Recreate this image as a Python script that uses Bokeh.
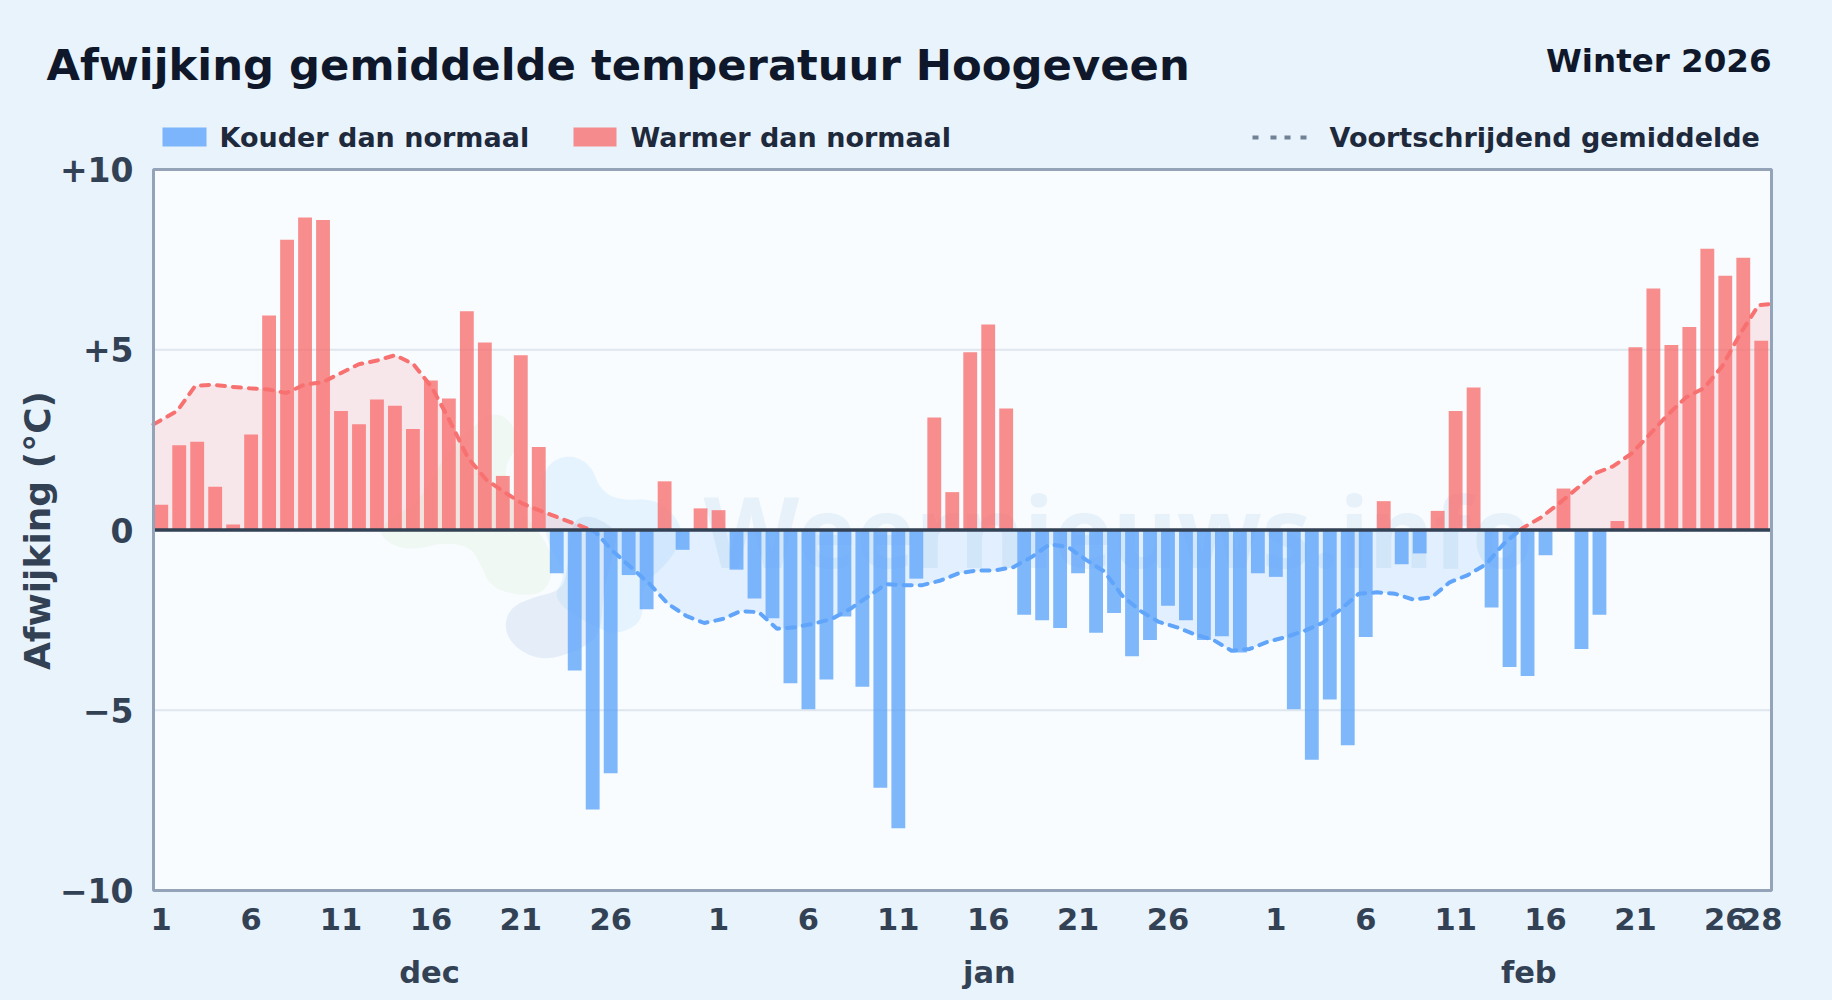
from bokeh.plotting import figure
from bokeh.embed import file_html
from bokeh.resources import INLINE
from bokeh.models import Label, BoxAnnotation, FixedTicker, AllLabels, LinearAxis, Range1d
from bokeh.core.properties import value
import numpy as np

# ---- data ----
dec_values = [0.7, 2.35, 2.45, 1.2, 0.15, 2.65, 5.95, 8.05, 8.67, 8.6, 3.3, 2.93, 3.62, 3.45, 2.8, 4.15,
              3.65, 6.07, 5.2, 1.5, 4.85, 2.3, -1.2, -3.9, -7.75, -6.75, -1.25, -2.2, 1.35, -0.55, 0.6]
jan_values = [0.55, -1.1, -1.9, -2.45, -4.25, -4.97, -4.15, -2.4, -4.35, -7.15, -8.27, -1.35, 3.12, 1.05,
              4.93, 5.7, 3.37, -2.35, -2.5, -2.72, -1.2, -2.85, -2.3, -3.5, -3.05, -2.1, -2.5, -3.05,
              -2.95, -3.4, -1.2]
feb_values = [-1.3, -4.97, -6.37, -4.7, -5.97, -2.97, 0.8, -0.95, -0.65, 0.53, 3.3, 3.95, -2.15, -3.8,
              -4.05, -0.7, 1.15, -3.3, -2.35, 0.25, 5.07, 6.7, 5.13, 5.63, 7.8, 7.05, 7.55, 5.25]
trend_values = [2.93, 3.3, 4.0, 4.03, 3.97, 3.93, 3.9, 3.8, 4.03, 4.1, 4.35, 4.6, 4.7, 4.85, 4.6, 3.97, 3.03,
                2.0, 1.4, 1.05, 0.73, 0.53, 0.34, 0.15, -0.05, -0.6, -1.05, -1.5, -2.05, -2.38, -2.58,
                -2.47, -2.25, -2.28, -2.74, -2.7, -2.6, -2.47, -2.2, -1.85, -1.5, -1.53, -1.53, -1.4,
                -1.2, -1.12, -1.12, -1.03, -0.75, -0.4, -0.47, -0.83, -1.15, -1.83, -2.25, -2.55, -2.7,
                -2.9, -3.05, -3.35, -3.3, -3.1, -2.97, -2.8, -2.58, -2.2, -1.77, -1.73, -1.77, -1.93,
                -1.87, -1.45, -1.25, -0.95, -0.37, 0.05, 0.34, 0.73, 1.15, 1.57, 1.77, 2.12, 2.65, 3.2,
                3.68, 3.94, 4.55, 5.46, 6.24, 6.27]
month_names = ["dec", "jan", "feb"]
month_lengths = [31, 31, 28]
month_centers = [14.85, 46, 76]
y_ticks = [10, 5, 0, -5, -10]
y_tick_labels = ["+10", "+5", "0", "\u22125", "\u221210"]
grid_values = [-5, 5]
day_ticks = [1, 6, 11, 16, 21, 26]
title_text = "Afwijking gemiddelde temperatuur Hoogeveen"
subtitle_text = "Winter 2026"
legend_cold = "Kouder dan normaal"
legend_warm = "Warmer dan normaal"
legend_trend = "Voortschrijdend gemiddelde"
y_title = "Afwijking (\u00b0C)"
watermark = "Weernieuws.info"

# ---- layout ----
W, H = 1832, 1000
L, R, T, B = 153, 1771, 169, 890   # plot-box edges in page pixels
FONT = "DejaVu Sans"
BG = "#e8f3fc"
BOX = "#f8fcff"
EDGE = "#94a3b8"
BLUE, RED = "#60a5fa", "#f87171"
BAND_SHIFT = -0.07   # bars sit a hair left of the band centre
TREND_SHIFT = 0.3    # inner running-mean points sit a little right of their even spacing

values = np.array(dec_values + jan_values + feb_values)
n = len(values)
idx = np.arange(n) + BAND_SHIFT
x_lo, x_hi = -0.5, n - 0.5
y_lo, y_hi = -10, 10

def dx(px):
    return (np.asarray(px, float) - L) / (R - L) * n - 0.5

def dy(py):
    return 10 - (np.asarray(py, float) - T) / (B - T) * 20

# The frame fills the page, so that texts outside the plot box are not clipped.
p = figure(width=W, height=H, x_range=Range1d(float(dx(0)), float(dx(W))), y_range=Range1d(float(dy(H)), float(dy(0))),
           x_axis_type=None, y_axis_type=None, output_backend="svg", toolbar_location=None,
           min_border=0, background_fill_color=BG, border_fill_color=BG)
p.outline_line_color = None

# plot box
p.quad(left=[x_lo], right=[x_hi], bottom=[y_lo], top=[y_hi], fill_color=BOX, line_color=None)

# ---- watermark logo (decoration, traced shapes) ----
def chaikin(points, rounds=3):
    a = np.array(points, float)
    for _ in range(rounds):
        b = np.roll(a, -1, axis=0)
        a = np.column_stack([0.75 * a + 0.25 * b, 0.25 * a + 0.75 * b]).reshape(-1, 2)
    return a

def zoomed(points):
    a = chaikin(points)
    return dx(370 + a[:, 0] / 3), dy(400 + a[:, 1] / 3)

logo_green = [(370, 30), (430, 70), (440, 140), (400, 200), (420, 300), (530, 420), (550, 510), (520, 580),
              (440, 585), (360, 560), (330, 490), (300, 440), (220, 425), (130, 450), (50, 430), (20, 380),
              (150, 300), (200, 200), (280, 100)]
logo_blue = [(520, 200), (590, 160), (660, 190), (690, 270), (750, 300), (850, 295), (910, 340), (940, 400),
             (900, 480), (810, 560), (820, 660), (750, 700), (690, 690), (540, 600), (590, 520), (530, 430),
             (510, 300)]
logo_grey = [(400, 680), (420, 620), (490, 590), (570, 570), (590, 520), (600, 370), (650, 340), (730, 380),
             (740, 420), (700, 560), (690, 710), (600, 760), (510, 780), (430, 740)]
for pts, col, a in [(logo_green, "#bfe3a8", 0.14), (logo_blue, "#a5d4fb", 0.22), (logo_grey, "#9dbbdc", 0.2)]:
    xs, ys = zoomed(pts)
    p.patch(xs, ys, fill_color=col, fill_alpha=a, line_color=None)

p.text(dx([703]), dy([529]), text=[watermark], text_font=value("Noto Sans"), text_font_style="bold",
       text_font_size="99px", text_color="#1e6fc4", text_alpha=0.08, text_baseline="alphabetic")

# grid
p.segment(x0=[x_lo] * 2, x1=[x_hi] * 2, y0=grid_values, y1=grid_values, line_color="#dfe6ee", line_width=2)

# ---- running-mean area ----
tx = np.arange(n) * n / (n - 1) - 0.5
tx[1:-1] += TREND_SHIFT
ty = np.array(trend_values)
cx, cy = [], []
for i in range(n):
    cx.append(tx[i]); cy.append(ty[i])
    if i < n - 1 and ty[i] * ty[i + 1] < 0:
        cx.append(tx[i] + (tx[i + 1] - tx[i]) * ty[i] / (ty[i] - ty[i + 1])); cy.append(0.0)
cx, cy = np.array(cx), np.array(cy)

p.varea(cx, np.zeros_like(cy), np.maximum(cy, 0), fill_color=RED, fill_alpha=0.15)
p.varea(cx, np.zeros_like(cy), np.minimum(cy, 0), fill_color=BLUE, fill_alpha=0.15)

# ---- bars ----
pos = values >= 0
p.vbar(idx[pos], top=values[pos], bottom=0, width=0.77, fill_color=RED, fill_alpha=0.8, line_color=None)
p.vbar(idx[~pos], top=0, bottom=values[~pos], width=0.77, fill_color=BLUE, fill_alpha=0.8, line_color=None)

# ---- running-mean line ----
for mask, col in [(cy >= 0, RED), (cy <= 0, BLUE)]:
    xs, ys = cx.copy(), cy.copy()
    ys[~mask] = np.nan
    p.line(xs, ys, line_color=col, line_width=4, line_dash="8 8", line_cap="round")

# zero line and plot-box edge
p.segment(x0=[x_lo], x1=[x_hi], y0=[0], y1=[0], line_color="#334155", line_width=3.5)
p.quad(left=[x_lo], right=[x_hi], bottom=[y_lo], top=[y_hi], fill_color=None, line_color=EDGE, line_width=3)

# ---- axes ----
ya = LinearAxis(fixed_location=x_lo, ticker=FixedTicker(ticks=y_ticks),
                major_label_overrides=dict(zip(y_ticks, y_tick_labels)))
tick_pos, tick_lab, offset = [], [], 0
for m, length in zip(month_names, month_lengths):
    for d in day_ticks + ([length] if m == "feb" else []):
        tick_pos.append(offset + d - 1 + BAND_SHIFT)
        tick_lab.append(str(d))
    offset += length
xa = LinearAxis(fixed_location=y_lo, ticker=FixedTicker(ticks=tick_pos),
                major_label_overrides=dict(zip(tick_pos, tick_lab)), major_label_policy=AllLabels())
ma = LinearAxis(fixed_location=y_lo, ticker=FixedTicker(ticks=month_centers),
                major_label_overrides=dict(zip(month_centers, month_names)))
for ax in (xa, ya, ma):
    ax.axis_line_color = None
    ax.major_tick_line_color = None
    ax.minor_tick_line_color = None
    ax.major_label_text_font = FONT
    ax.major_label_text_font_style = "bold"
    ax.major_label_text_color = "#334155"
    ax.major_label_text_font_size = "30.5px"
ya.major_label_text_font_size = "33px"
ya.major_label_standoff = 14
xa.major_label_standoff = 11
ma.major_label_standoff = 58
p.add_layout(ya, "left")
p.add_layout(xa, "below")
p.add_layout(ma, "below")

# ---- texts ----
def label(px, py, text, size, color, align="left", angle=0.0):
    p.add_layout(Label(x=px, y=H - py, x_units="screen", y_units="screen", text=text, text_font=FONT,
                       text_font_style="bold", text_font_size=size, text_color=color,
                       text_align=align, text_baseline="alphabetic", angle=angle))

label(46, 64, title_text, "43.3px", "#0f172a")
label(1771, 60, subtitle_text, "32.5px", "#0f172a", align="right")
label(219, 137, legend_cold, "27px", "#1e293b")
label(630, 137, legend_warm, "27px", "#1e293b")
label(1329, 137, legend_trend, "27px", "#1e293b")
label(37, 530, y_title, "36px", "#334155", align="center", angle=np.pi / 2)

# ---- legend swatches ----
def box(x0, x1, y0, y1, col, alpha):
    p.add_layout(BoxAnnotation(left=x0, right=x1, top=H - y0, bottom=H - y1,
                               left_units="screen", right_units="screen", top_units="screen",
                               bottom_units="screen", fill_color=col, fill_alpha=alpha, line_color=None))

box(162, 206, 127, 146, BLUE, 0.8)
box(573, 616, 127, 146, RED, 0.8)
for left in (1252, 1270, 1284, 1300):
    box(left, left + 6, 135, 139, "#64748b", 0.9)

html = file_html(p, INLINE)
html = html.replace("<head>", "<head><style>html,body{background:%s}</style>" % BG, 1)
open("out.html", "w").write(html)
